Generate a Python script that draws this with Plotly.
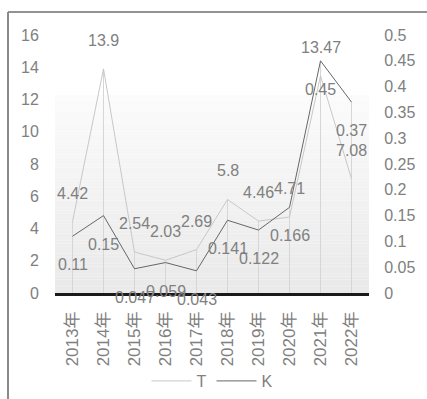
import plotly.graph_objects as go

# Categories and series
years = ["2013年", "2014年", "2015年", "2016年", "2017年",
         "2018年", "2019年", "2020年", "2021年", "2022年"]
t_values = [4.42, 13.9, 2.54, 2.03, 2.69, 5.8, 4.46, 4.71, 13.47, 7.08]
k_values = [0.11, 0.15, 0.047, 0.059, 0.043, 0.141, 0.122, 0.166, 0.45, 0.37]
t_labels = ["4.42", "13.9", "2.54", "2.03", "2.69", "5.8", "4.46", "4.71", "13.47", "7.08"]
k_labels = ["0.11", "0.15", "0.047", "0.059", "0.043", "0.141", "0.122", "0.166", "0.45", "0.37"]

left_range = [0, 16]
right_range = [0, 0.5]

W, H = 427, 399
ML, MR, MT, MB = 55, 58, 35, 106
plot_w = W - ML - MR
plot_h = H - MT - MB

TEXT = "#808080"
FONT = "Liberation Sans, Noto Sans CJK SC, sans-serif"
FS = 16


def px_x(p):
    return (p - ML) / plot_w


def px_y(p):
    return (H - MB - p) / plot_h


fig = go.Figure()

fig.add_trace(go.Scatter(
    x=years, y=t_values, name="T", mode="lines",
    line=dict(color="#c8c8c8", width=1), yaxis="y"))
fig.add_trace(go.Scatter(
    x=years, y=k_values, name="K", mode="lines",
    line=dict(color="#666666", width=1), yaxis="y2"))

shapes = []
# soft vertical gradient in the lower part of the plot area
n = 60
top_px, bot_px = 95, H - MB
for i in range(n):
    f = i / (n - 1)
    c = int(round(251 - (251 - 233) * f))
    y0 = top_px + (bot_px - top_px) * i / n
    y1 = top_px + (bot_px - top_px) * (i + 1) / n
    shapes.append(dict(type="rect", xref="paper", yref="paper",
                       x0=0, x1=1, y0=px_y(y1), y1=px_y(y0),
                       line=dict(width=0), fillcolor=f"rgb({c},{c},{c})",
                       layer="below"))

# drop lines from the higher of the two points down to the axis
scale = (left_range[1] - left_range[0]) / (right_range[1] - right_range[0])
for yr, tv, kv in zip(years, t_values, k_values):
    shapes.append(dict(type="line", xref="x", yref="y",
                       x0=yr, x1=yr, y0=0, y1=max(tv, kv * scale),
                       line=dict(color="#d6d6d6", width=1), layer="below"))

# outer frame: top and left border
shapes.append(dict(type="line", xref="paper", yref="paper",
                   x0=px_x(8), x1=px_x(W + 2), y0=px_y(12), y1=px_y(12),
                   line=dict(color="#262626", width=1.2)))
shapes.append(dict(type="line", xref="paper", yref="paper",
                   x0=px_x(8), x1=px_x(8), y0=px_y(12), y1=px_y(H + 2),
                   line=dict(color="#8a8a8a", width=2)))

annotations = []
for yr, tv, lab in zip(years, t_values, t_labels):
    annotations.append(dict(x=yr, y=tv, xref="x", yref="y", text=lab,
                            showarrow=False, yanchor="bottom", yshift=18,
                            font=dict(family=FONT, size=FS, color=TEXT)))
for yr, kv, lab in zip(years, k_values, k_labels):
    annotations.append(dict(x=yr, y=kv, xref="x", yref="y2", text=lab,
                            showarrow=False, yanchor="top", yshift=-18,
                            font=dict(family=FONT, size=FS, color=TEXT)))

fig.update_layout(
    width=W, height=H,
    margin=dict(l=ML, r=MR, t=MT, b=MB, autoexpand=False),
    paper_bgcolor="white", plot_bgcolor="white",
    font=dict(family=FONT, size=FS, color=TEXT),
    showlegend=True,
    legend=dict(orientation="h", x=0.5, xanchor="center", y=px_y(381), yanchor="middle",
                font=dict(family=FONT, size=FS, color=TEXT),
                bgcolor="rgba(0,0,0,0)", itemwidth=40),
    xaxis=dict(type="category", tickangle=-90, showgrid=False, zeroline=False,
               showline=True, linecolor="#1a1a1a", linewidth=2.5,
               ticks="outside", ticklen=9, tickcolor="rgba(0,0,0,0)",
               automargin=False,
               tickfont=dict(family=FONT, size=17, color=TEXT)),
    yaxis=dict(range=left_range, dtick=2, showgrid=False, zeroline=False,
               showline=False, ticks="outside", ticklen=12,
               tickcolor="rgba(0,0,0,0)", automargin=False,
               tickfont=dict(family=FONT, size=FS, color=TEXT)),
    yaxis2=dict(range=right_range, dtick=0.05, overlaying="y", side="right",
                showgrid=False, zeroline=False, showline=False,
                ticks="outside", ticklen=11, tickcolor="rgba(0,0,0,0)",
                automargin=False,
                tickfont=dict(family=FONT, size=FS, color=TEXT)),
    shapes=shapes,
    annotations=annotations,
)

fig.write_html("out.html")
